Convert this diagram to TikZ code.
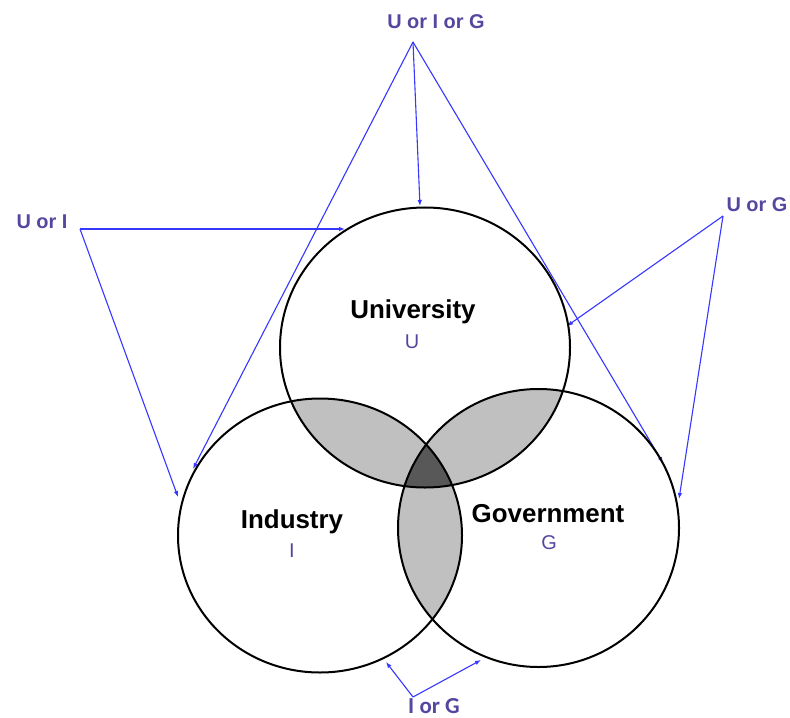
\documentclass[tikz,border=0pt]{standalone}
\usepackage{fontspec}
\setmainfont{Liberation Sans}
\newfontfamily\calfont{Carlito}
\usetikzlibrary{arrows.meta,shapes.geometric}
\definecolor{arrowblue}{RGB}{55,55,255}
\definecolor{labpurple}{RGB}{85,70,160}
\definecolor{lightgraytwo}{RGB}{192,192,192}
\definecolor{darkgraytwo}{RGB}{88,88,88}
\begin{document}
\begin{tikzpicture}[x=1bp,y=-1bp,
  conn/.style={draw=arrowblue, line width=1.1bp, -{Latex[length=6bp,width=4.5bp]}},
  ring/.style={draw=black, line width=2bp, ellipse, inner sep=0pt},
  big/.style={font=\bfseries\fontsize{26}{30}\selectfont, inner sep=0pt},
  small/.style={font=\fontsize{20}{24}\selectfont, text=labpurple, inner sep=0pt},
  tag/.style={font=\bfseries\fontsize{20}{24}\selectfont, text=labpurple, inner sep=0pt}]
\useasboundingbox (0,0) rectangle (790,718);
\fill[white] (0,0) rectangle (790,718);

% shaded overlaps (pairwise first)
\begin{scope}
  \clip (425,347.5) ellipse [x radius=145bp, y radius=140bp];
  \fill[lightgraytwo] (320,535.5) ellipse [x radius=142bp, y radius=137bp];
  \fill[lightgraytwo] (538.5,528) ellipse [x radius=140.5bp, y radius=139bp];
\end{scope}
\begin{scope}
  \clip (320,535.5) ellipse [x radius=142bp, y radius=137bp];
  \fill[lightgraytwo] (538.5,528) ellipse [x radius=140.5bp, y radius=139bp];
\end{scope}
% triple overlap
\begin{scope}
  \clip (425,347.5) ellipse [x radius=145bp, y radius=140bp];
  \clip (320,535.5) ellipse [x radius=142bp, y radius=137bp];
  \fill[darkgraytwo] (538.5,528) ellipse [x radius=140.5bp, y radius=139bp];
\end{scope}

% label nodes
\node[tag] (uig) at (436,22) {U or I or G};
\node[tag] (ui) at (42,222) {U or I};
\node[tag] (ug) at (757,205) {U or G};
\node[tag, font=\calfont\bfseries\fontsize{23}{26}\selectfont] (ig) at (434,706) {I or G};

% apex and target points
\coordinate (uigA) at (413,42);
\coordinate (uiA) at (80,229);
\coordinate (ugA) at (723,216);
\coordinate (igA) at (413,697);
\coordinate (tI1) at (193,469);
\coordinate (tU1) at (420,206);
\coordinate (tG1) at (663,463);
\coordinate (tU2) at (345,229);
\coordinate (tI2) at (178,497);
\coordinate (tU3) at (567,326);
\coordinate (tG2) at (679,499);
\coordinate (tI3) at (386,662);
\coordinate (tG3) at (481,660);

% connectors
\draw[conn] (uigA) -- (tI1);
\draw[conn] (uigA) -- (tU1);
\draw[conn] (uigA) -- (tG1);
\draw[conn] (uiA) -- (tU2);
\draw[conn] (uiA) -- (tI2);
\draw[conn] (ugA) -- (tU3);
\draw[conn] (ugA) -- (tG2);
\draw[conn] (igA) -- (tI3);
\draw[conn] (igA) -- (tG3);

% circles
\node[ring, minimum width=290bp, minimum height=280bp] (U) at (425,347.5) {};
\node[ring, minimum width=284bp, minimum height=274bp] (I) at (320,535.5) {};
\node[ring, minimum width=281bp, minimum height=278bp] (G) at (538.5,528) {};

% texts
\node[big] (ut) at (413,312) {University};
\node[small] (us) at (412,342) {U};
\node[big] (it) at (292,522) {Industry};
\node[small] (is) at (292,551) {I};
\node[big] (gt) at (548,514) {Government};
\node[small] (gs) at (549,543) {G};
\end{tikzpicture}
\end{document}
